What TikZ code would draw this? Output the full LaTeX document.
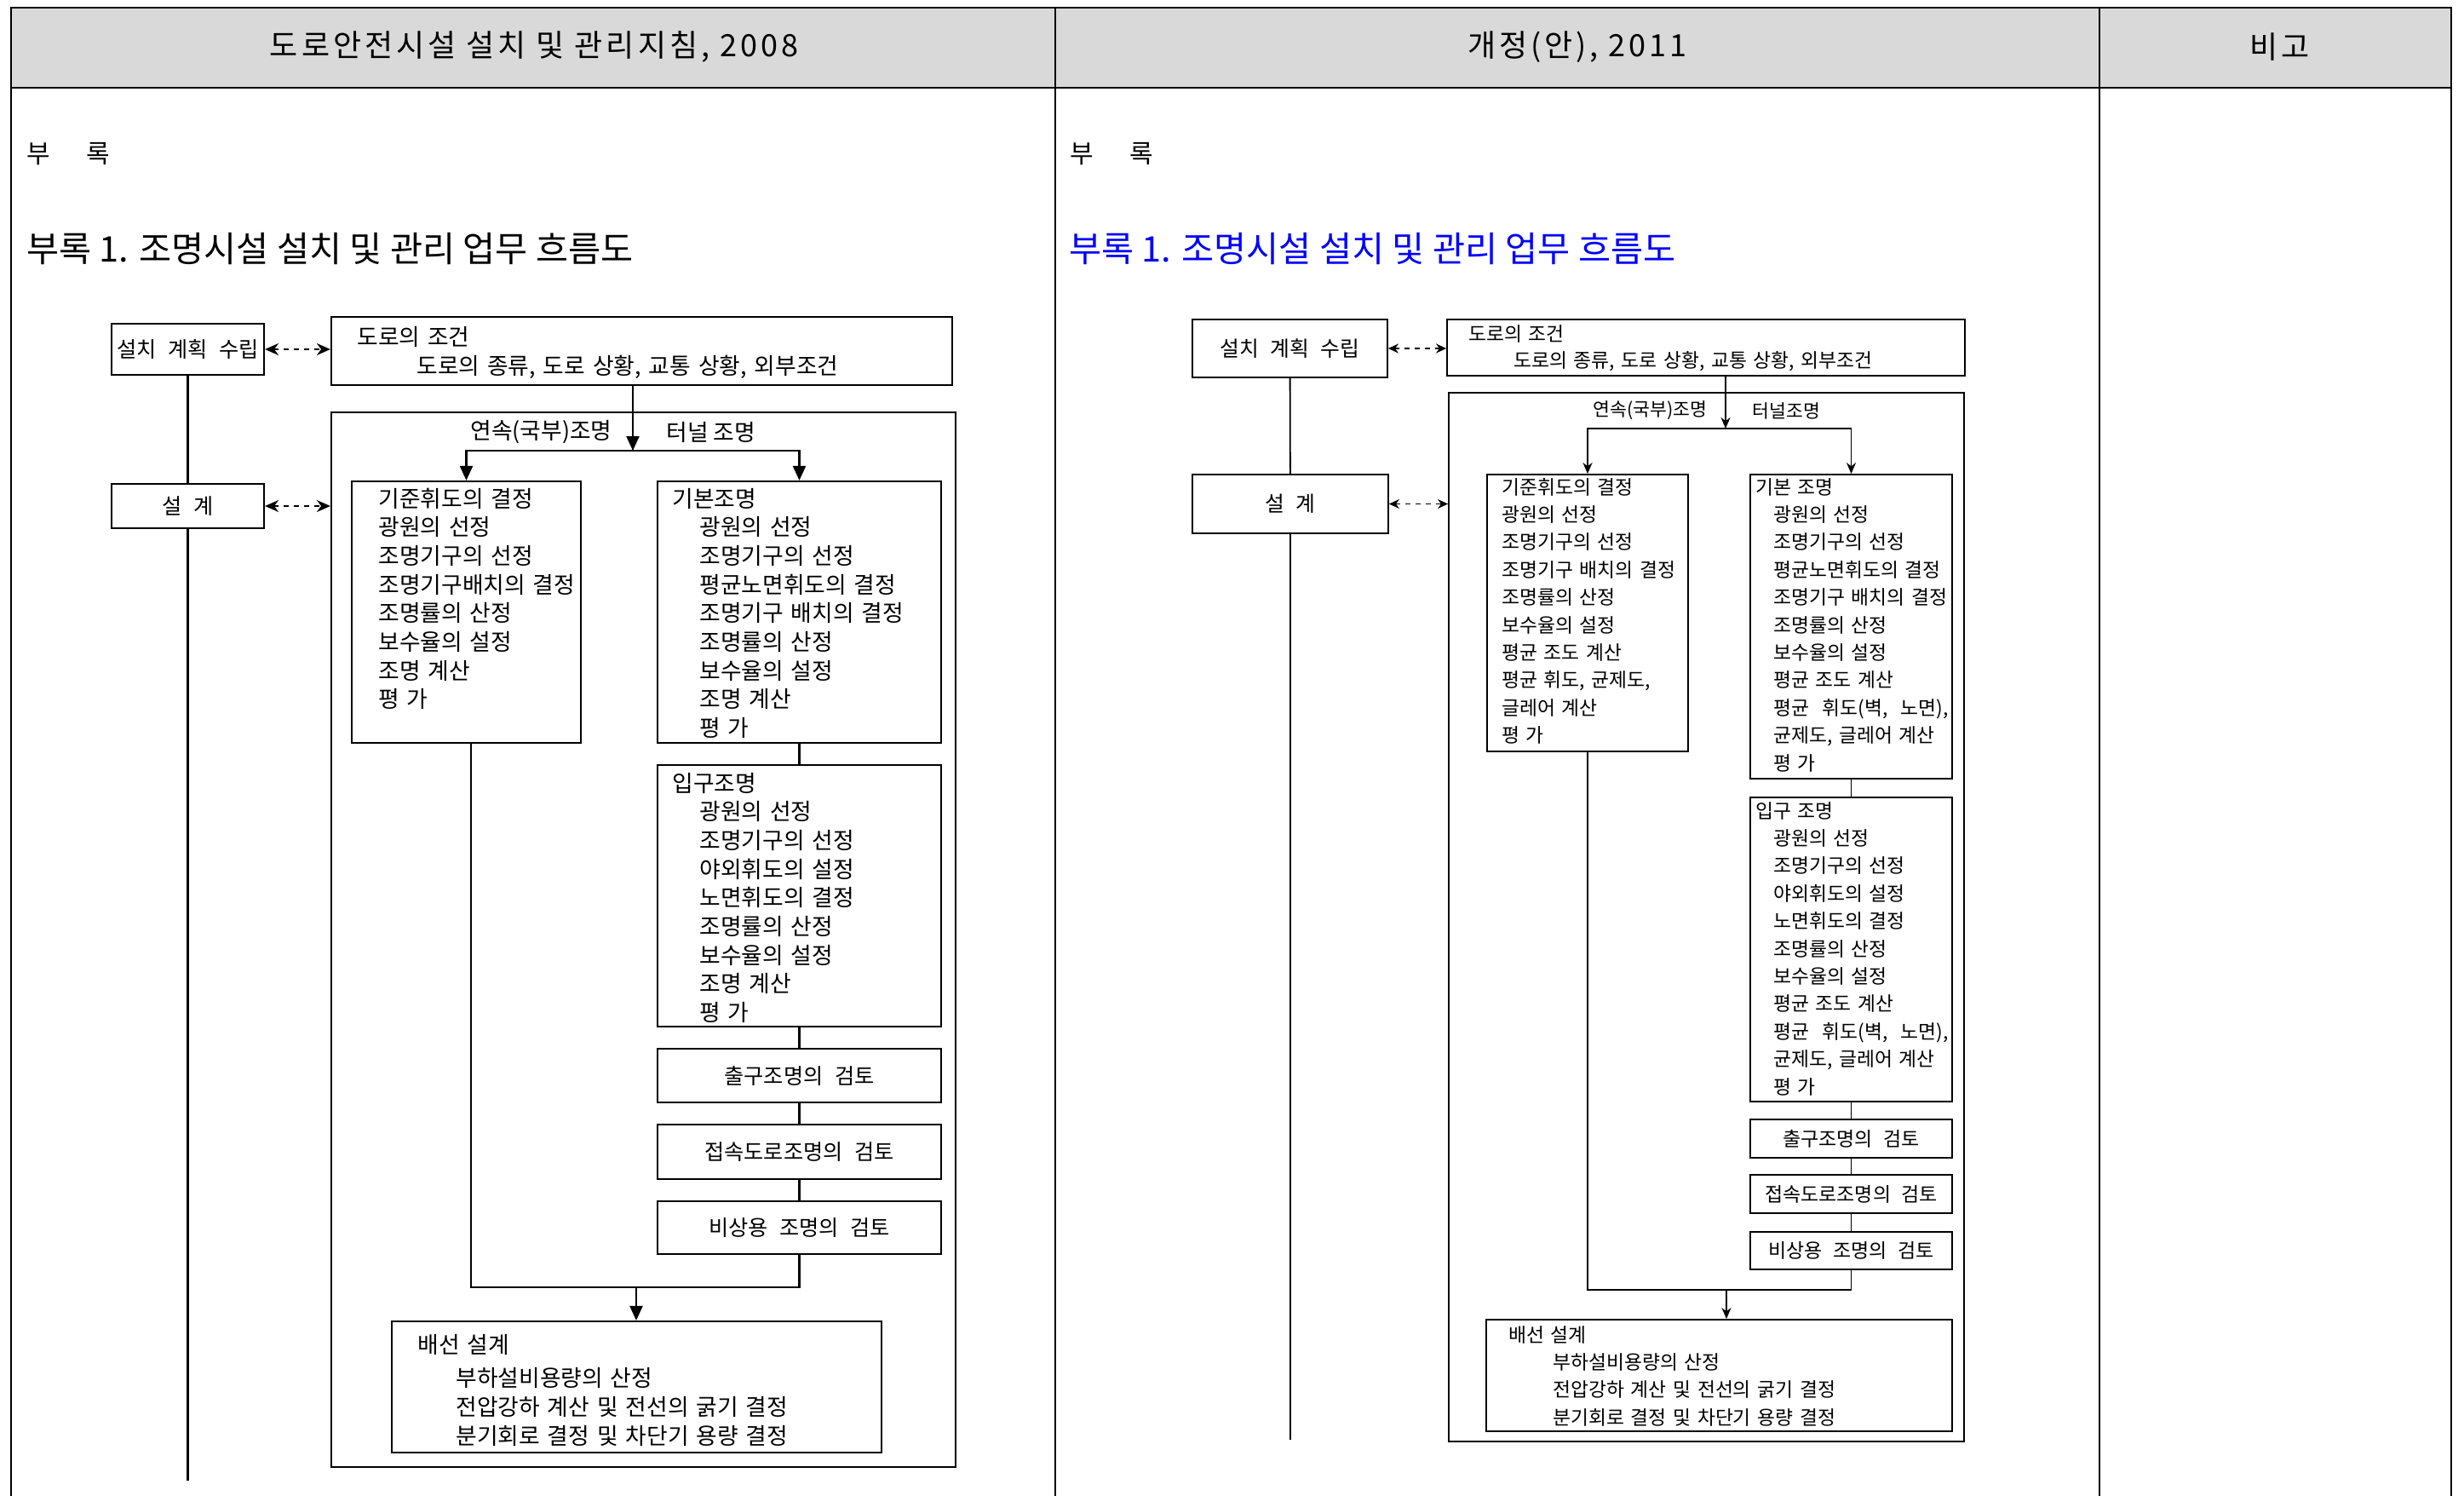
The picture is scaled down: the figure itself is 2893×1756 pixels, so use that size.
\documentclass[tikz,border=0pt]{standalone}
\usepackage{fontspec}
\setmainfont{Noto Sans CJK KR}
\newfontfamily\lfont[WordSpace=1.4]{Noto Sans CJK KR}
\newfontfamily\rfont[WordSpace=2.4]{Noto Sans CJK KR}
\newfontfamily\hfont[LetterSpace=11]{Noto Sans CJK KR}
\usetikzlibrary{arrows.meta, fit}
\definecolor{headgray}{HTML}{D9D9D9}
\definecolor{titleblue}{HTML}{0000FF}
\newcommand{\lsub}{\hspace*{16pt}}
\newcommand{\rsub}{\hspace*{10.5pt}}

\begin{document}
\begin{tikzpicture}[x=0.5pt, y=-0.5pt,
  lbx/.style={draw, line width=1.1pt, inner sep=0pt, fit={#1}},
  rbx/.style={draw, line width=0.9pt, inner sep=0pt, fit={#1}},
  ltxt/.style={inner sep=0pt, anchor=base west, text width=300pt, align=left, font=\lfont\fontsize{13.4pt}{16.85pt}\selectfont},
  rtxt/.style={inner sep=0pt, anchor=base west, text width=300pt, align=left, font=\rfont\fontsize{11.4pt}{16.2pt}\selectfont},
  llabel/.style={inner sep=0pt, anchor=west, font=\lfont\fontsize{13.4pt}{16.85pt}\selectfont},
  rlabel/.style={inner sep=0pt, anchor=west, font=\rfont\fontsize{10.8pt}{16.2pt}\selectfont},
  lname/.style={inner sep=0pt, font=\lfont\fontsize{12.6pt}{16pt}\selectfont},
  rname/.style={inner sep=0pt, font=\rfont\fontsize{11.5pt}{16pt}\selectfont},
  rbig/.style={inner sep=0pt, font=\rfont\fontsize{12.4pt}{16pt}\selectfont},
  lline/.style={line width=1.1pt},
  rline/.style={line width=0.9pt},
  larrow/.style={line width=1.1pt, -{Triangle[length=8.5pt, width=7.5pt]}},
  rarrow/.style={line width=0.9pt, -{Stealth[length=6.5pt, width=5.5pt]}},
  ldash/.style={line width=1.1pt, dashed, {Stealth[length=8pt, width=7pt]}-{Stealth[length=8pt, width=7pt]}},
  rdash/.style={line width=0.9pt, dashed, {Stealth[length=6pt, width=5.5pt]}-{Stealth[length=6pt, width=5.5pt]}},
  headtx/.style={font=\hfont\fontsize{18pt}{20pt}\selectfont}]
\useasboundingbox (0,0) rectangle (2893,1756);

% table frame
\fill[headgray] (13,9) rectangle (2878,103);
\draw[line width=1pt] (13,1756) -- (13,9) -- (2878,9) -- (2878,1756);
\draw[line width=1pt] (13,103) -- (2878,103);
\draw[line width=1pt] (1239,9) -- (1239,1756);
\draw[line width=1pt] (2465,9) -- (2465,1756);
\node[headtx] (hcur) at (627,55) {도로안전시설 설치 및 관리지침, 2008};
\node[headtx] (hrev) at (1852,55) {개정(안), 2011};
\node[headtx] (hnote) at (2677,55) {비고};

% headings
\node[inner sep=0pt, anchor=west, font=\fontsize{15pt}{16pt}\selectfont] (lappx) at (31,181) {부\hspace{21pt}록};
\node[inner sep=0pt, anchor=west, font=\fontsize{20.7pt}{22pt}\selectfont] (ltitle) at (31,292) {부록 1. 조명시설 설치 및 관리 업무 흐름도};
\node[inner sep=0pt, anchor=west, font=\fontsize{15pt}{16pt}\selectfont] (rappx) at (1256,181) {부\hspace{21pt}록};
\node[inner sep=0pt, anchor=west, text=titleblue, font=\fontsize{20.7pt}{22pt}\selectfont] (rtitle) at (1255,292) {부록 1. 조명시설 설치 및 관리 업무 흐름도};

% 2008 flow
\node[lbx={(131,380) (310,440)}] (lplan) {};
\node[lname] (lplantx) at (lplan) {설치 계획 수립};
\node[lbx={(131,568) (310,620)}] (ldesign) {};
\node[lname] (ldesigntx) at (ldesign) {설 계};
\node[lbx={(389,372) (1118,452)}] (lroad) {};
\node[ltxt] (lroadtx) at (419,405) {도로의 조건\\[0.4pt]\hspace*{35pt}도로의 종류, 도로 상황, 교통 상황, 외부조건};
\node[lbx={(389,484) (1122,1722)}] (louter) {};
\node[llabel] (lcont) at (552,507) {연속(국부)조명};
\node[llabel] (ltunl) at (782,507) {터널\hspace{3pt}조명};
\node[lbx={(413,565) (682,872)}] (lstd) {};
\node[ltxt] (lstdtx) at (444,595) {기준휘도의 결정\\광원의 선정\\조명기구의 선정\\조명기구배치의 결정\\조명률의 산정\\보수율의 설정\\조명 계산\\평 가};
\node[lbx={(772,565) (1105,872)}] (lbasic) {};
\node[ltxt] (lbasictx) at (789,595) {기본조명\\\lsub 광원의 선정\\\lsub 조명기구의 선정\\\lsub 평균노면휘도의 결정\\\lsub 조명기구 배치의 결정\\\lsub 조명률의 산정\\\lsub 보수율의 설정\\\lsub 조명 계산\\\lsub 평 가};
\node[lbx={(772,898) (1105,1205)}] (lentry) {};
\node[ltxt] (lentrytx) at (789,929) {입구조명\\\lsub 광원의 선정\\\lsub 조명기구의 선정\\\lsub 야외휘도의 설정\\\lsub 노면휘도의 결정\\\lsub 조명률의 산정\\\lsub 보수율의 설정\\\lsub 조명 계산\\\lsub 평 가};
\node[lbx={(772,1231) (1105,1294)}] (lexit) {};
\node[lname] (lexittx) at (lexit) {출구조명의 검토};
\node[lbx={(772,1320) (1105,1384)}] (lconn) {};
\node[lname] (lconntx) at (lconn) {접속도로조명의 검토};
\node[lbx={(772,1410) (1105,1472)}] (lemerg) {};
\node[lname] (lemergtx) at (lemerg) {비상용 조명의 검토};
\node[lbx={(460,1551) (1035,1705)}] (lwire) {};
\node[ltxt] (lwiretx) at (490,1588) {배선 설계\\[3pt]\hspace*{22.5pt}부하설비용량의 산정\\\hspace*{22.5pt}전압강하 계산 및 전선의 굵기 결정\\\hspace*{22.5pt}분기회로 결정 및 차단기 용량 결정};

\coordinate (lend) at (221,1738);
\coordinate (lsplit) at (743,529);
\coordinate (ljoin) at (747,1511);
\draw[lline] (lplan) -- (ldesign);
\draw[lline] (ldesign) -- (ldesign |- lend);
\draw[ldash] (lplan.east) -- (lplan.east -| lroad.west);
\draw[ldash] (ldesign.east) -- (ldesign.east -| louter.west);
\draw[larrow] (lroad.south -| lsplit) -- (lsplit);
\draw[larrow] (lsplit) -| (lstd.north);
\draw[larrow] (lsplit) -| (lbasic.north);
\draw[lline] (lbasic) -- (lentry);
\draw[lline] (lentry) -- (lexit);
\draw[lline] (lexit) -- (lconn);
\draw[lline] (lconn) -- (lemerg);
\draw[lline] ([xshift=2.75pt]lstd.south) |- (lemerg.south |- ljoin) -- (lemerg.south);
\draw[larrow] (ljoin) -- (lwire.north -| ljoin);

% 2011 flow
\node[rbx={(1400,375) (1629,443)}] (rplan) {};
\node[rbig] (rplantx) at (rplan) {설치 계획 수립};
\node[rbx={(1400,557) (1630,626)}] (rdesign) {};
\node[rbig] (rdesigntx) at (rdesign) {설 계};
\node[rbx={(1699,375) (2307,441)}] (rroad) {};
\node[rtxt] (rroadtx) at (1724,400) {도로의 조건\\[-0.7pt]\hspace*{26.5pt}도로의 종류, 도로 상황, 교통 상황, 외부조건};
\node[rbx={(1701,461) (2306,1692)}] (router) {};
\node[rlabel] (rcont) at (1870,482) {연속(국부)조명};
\node[rlabel] (rtunl) at (2057,482) {터널조명};
\node[rbx={(1746,557) (1982,882)}] (rstd) {};
\node[rtxt] (rstdtx) at (1763,580) {기준휘도의 결정\\광원의 선정\\조명기구의 선정\\조명기구 배치의 결정\\조명률의 산정\\보수율의 설정\\평균 조도 계산\\평균 휘도, 균제도,\\글레어 계산\\평 가};
\node[rbx={(2055,557) (2292,914)}] (rbasic) {};
\node[rtxt] (rbasictx) at (2061,580) {기본 조명\\\rsub 광원의 선정\\\rsub 조명기구의 선정\\\rsub 평균노면휘도의 결정\\\rsub 조명기구 배치의 결정\\\rsub 조명률의 산정\\\rsub 보수율의 설정\\\rsub 평균 조도 계산\\\rsub 평균\ \ 휘도(벽,\ \ 노면),\\\rsub 균제도, 글레어 계산\\\rsub 평 가};
\node[rbx={(2055,936) (2292,1293)}] (rentry) {};
\node[rtxt] (rentrytx) at (2061,960) {입구 조명\\\rsub 광원의 선정\\\rsub 조명기구의 선정\\\rsub 야외휘도의 설정\\\rsub 노면휘도의 결정\\\rsub 조명률의 산정\\\rsub 보수율의 설정\\\rsub 평균 조도 계산\\\rsub 평균\ \ 휘도(벽,\ \ 노면),\\\rsub 균제도, 글레어 계산\\\rsub 평 가};
\node[rbx={(2055,1314) (2292,1359)}] (rexit) {};
\node[rname] (rexittx) at (rexit) {출구조명의 검토};
\node[rbx={(2055,1379) (2292,1424)}] (rconn) {};
\node[rname] (rconntx) at (rconn) {접속도로조명의 검토};
\node[rbx={(2055,1446) (2292,1490)}] (remerg) {};
\node[rname] (remergtx) at (remerg) {비상용 조명의 검토};
\node[rbx={(1745,1549) (2292,1680)}] (rwire) {};
\node[rtxt] (rwiretx) at (1771,1575) {배선 설계\\\hspace*{26pt}부하설비용량의 산정\\\hspace*{26pt}전압강하 계산 및 전선의 굵기 결정\\\hspace*{26pt}분기회로 결정 및 차단기 용량 결정};

\coordinate (rend) at (1515,1690);
\coordinate (rsplit) at (2026,503);
\coordinate (rjoin) at (2027,1514);
\draw[rline] (rplan) -- (rdesign);
\draw[rline] (rdesign) -- (rdesign |- rend);
\draw[rdash] (rplan.east) -- (rplan.east -| rroad.west);
\draw[rdash] (rdesign.east) -- (rdesign.east -| router.west);
\draw[rarrow] (rroad.south -| rsplit) -- (rsplit);
\draw[rarrow] (rsplit) -| (rstd.north);
\draw[rarrow] (rsplit) -| (rbasic.north);
\draw[rline] (rbasic) -- (rentry);
\draw[rline] (rentry) -- (rexit);
\draw[rline] (rexit) -- (rconn);
\draw[rline] (rconn) -- (remerg);
\draw[rline] (rstd.south) |- (remerg.south |- rjoin) -- (remerg.south);
\draw[rarrow] (rjoin) -- (rwire.north -| rjoin);
\end{tikzpicture}
\end{document}
